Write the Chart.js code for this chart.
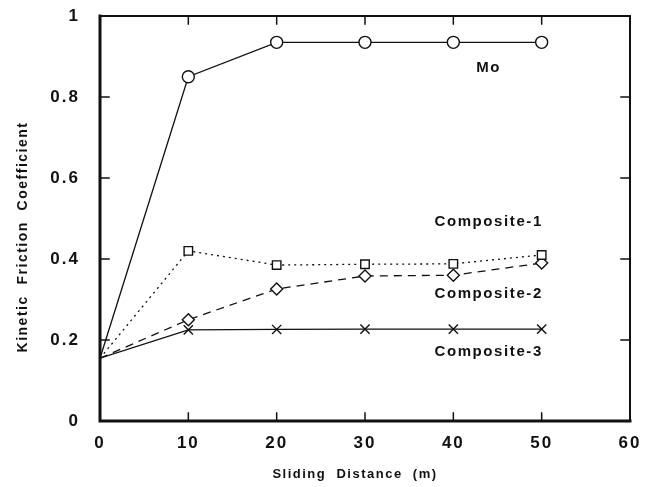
<!DOCTYPE html>
<html>
<head>
<meta charset="utf-8">
<script src="https://cdn.jsdelivr.net/npm/chart.js@4/dist/chart.umd.min.js"></script>
<style>
  html, body { margin: 0; padding: 0; background: #fff; }
  #wrap { width: 660px; height: 487px; }
</style>
</head>
<body>
<div id="wrap"><canvas id="grafica" width="660" height="487"></canvas></div>
<script>
// Datos
const distancias = [0, 10, 20, 30, 40, 50];
const mo = [0.155, 0.85, 0.935, 0.935, 0.935, 0.935];
const composite1 = [0.155, 0.42, 0.385, 0.387, 0.388, 0.41];
const composite2 = [0.155, 0.25, 0.326, 0.358, 0.36, 0.39];
const composite3 = [0.155, 0.225, 0.226, 0.227, 0.227, 0.227];
const xTicks = [0, 10, 20, 30, 40, 50, 60];
const yTicks = [0, 0.2, 0.4, 0.6, 0.8, 1];
// etiquetas de las curvas: [texto, x, y] en unidades de los datos
const etiquetas = [
    ["Mo", 44, 0.872],
    ["Composite-1", 44, 0.491],
    ["Composite-2", 44, 0.314],
    ["Composite-3", 44, 0.17],
];

const FUENTE = "'Liberation Sans', Arial, sans-serif";

function serie(label, valores, estilo, dash) {
    const r = estilo === "crossRot" ? 6.5 : 6;
    return {
        label: label,
        data: distancias.map((x, i) => ({ x: x, y: valores[i] })),
        borderColor: "#111",
        borderWidth: 1.3,
        borderDash: dash,
        pointStyle: estilo,
        // sin marcador en el origen
        pointRadius: distancias.map(x => (x === 0 ? 0 : r)),
        pointBorderWidth: 1.4,
        pointBorderColor: "#111",
        pointBackgroundColor: "#fff",
        fill: false,
        tension: 0,
    };
}

// Marco, marcas interiores, etiquetas y títulos de los ejes
const marco = {
    id: "marco",
    beforeDraw(chart) {
        chart.ctx.letterSpacing = "2px";
    },
    afterDraw(chart) {
        const ctx = chart.ctx;
        const a = chart.chartArea;
        const xs = chart.scales.x, ys = chart.scales.y;
        ctx.save();
        ctx.strokeStyle = "#111";
        ctx.lineCap = "square";
        // marcas
        ctx.lineWidth = 1.5;
        xTicks.forEach(v => {
            const px = xs.getPixelForValue(v);
            ctx.beginPath();
            ctx.moveTo(px, a.bottom); ctx.lineTo(px, a.bottom - 8);
            ctx.moveTo(px, a.top); ctx.lineTo(px, a.top + 8);
            ctx.stroke();
        });
        yTicks.forEach(v => {
            const py = ys.getPixelForValue(v);
            ctx.beginPath();
            ctx.moveTo(a.left, py); ctx.lineTo(a.left + 9, py);
            ctx.moveTo(a.right, py); ctx.lineTo(a.right - 9, py);
            ctx.stroke();
        });
        // bordes
        ctx.lineWidth = 2;
        ctx.beginPath();
        ctx.moveTo(a.left, a.top); ctx.lineTo(a.right, a.top);
        ctx.moveTo(a.right, a.top); ctx.lineTo(a.right, a.bottom);
        ctx.stroke();
        ctx.lineWidth = 3;
        ctx.beginPath();
        ctx.moveTo(a.left, a.top); ctx.lineTo(a.left, a.bottom);
        ctx.lineTo(a.right, a.bottom);
        ctx.stroke();
        // etiquetas
        ctx.fillStyle = "#111";
        ctx.letterSpacing = "1.6px";
        ctx.font = "bold 15px " + FUENTE;
        ctx.textAlign = "center";
        ctx.textBaseline = "middle";
        etiquetas.forEach(([t, x, y]) => {
            ctx.fillText(t, xs.getPixelForValue(x), ys.getPixelForValue(y));
        });
        // título del eje x
        ctx.letterSpacing = "1.5px";
        ctx.font = "bold 13px " + FUENTE;
        ctx.fillText("Sliding  Distance  (m)", 355, 474);
        // título del eje y
        ctx.font = "bold 14px " + FUENTE;
        ctx.translate(23, 237);
        ctx.rotate(-Math.PI / 2);
        ctx.fillText("Kinetic  Friction  Coefficient", 0, 0);
        ctx.restore();
    },
};

const config = {
    type: "line",
    data: {
        datasets: [
            serie("Mo", mo, "circle", []),
            serie("Composite-1", composite1, "rect", [2, 4]),
            serie("Composite-2", composite2, "rectRot", [8, 6]),
            serie("Composite-3", composite3, "crossRot", []),
        ],
    },
    options: {
        responsive: false,
        animation: false,
        layout: { padding: { top: 16, right: 30, left: 0, bottom: 0 } },
        plugins: {
            legend: { display: false },
            tooltip: { enabled: false },
        },
        scales: {
            x: {
                type: "linear",
                min: 0,
                max: 60,
                afterBuildTicks: s => { s.ticks = xTicks.map(v => ({ value: v })); },
                afterFit: s => { s.height = 66; s.paddingLeft = 0; s.paddingRight = 0; },
                grid: { display: false, drawTicks: false },
                border: { display: false },
                ticks: {
                    color: "#111",
                    padding: 12,
                    maxRotation: 0,
                    font: { family: FUENTE, size: 17, weight: "bold" },
                },
                title: { display: false },
            },
            y: {
                type: "linear",
                min: 0,
                max: 1,
                afterBuildTicks: s => { s.ticks = yTicks.map(v => ({ value: v })); },
                afterFit: s => { s.width = 100; s.paddingTop = 0; s.paddingBottom = 0; },
                grid: { display: false, drawTicks: false },
                border: { display: false },
                ticks: {
                    color: "#111",
                    padding: 20,
                    callback: v => (v === 0 || v === 1) ? String(v) : v.toFixed(1),
                    font: { family: FUENTE, size: 17, weight: "bold" },
                },
                title: { display: false },
            },
        },
    },
    plugins: [marco],
};

const chart = new Chart(document.getElementById("grafica").getContext("2d"), config);
</script>
</body>
</html>
